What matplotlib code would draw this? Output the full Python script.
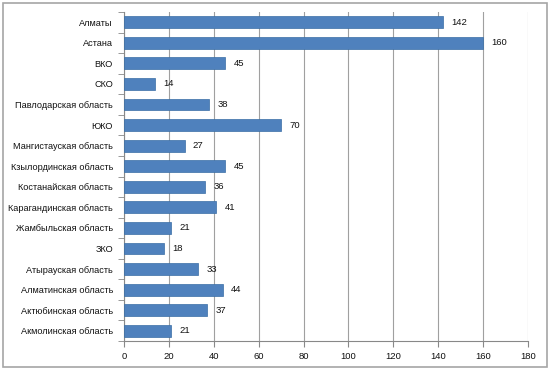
import matplotlib.pyplot as plt
from matplotlib.patches import Rectangle
import numpy as np

regions = ["Алматы", "Астана", "ВКО", "СКО", "Павлодарская область", "ЮКО",
           "Мангистауская область", "Кзылординская область", "Костанайская область",
           "Карагандинская область", "Жамбыльская область", "ЗКО",
           "Атырауская область", "Алматинская область", "Актюбинская область",
           "Акмолинская область"]
counts = [142, 160, 45, 14, 38, 70, 27, 45, 36, 41, 21, 18, 33, 44, 37, 21]

plt.rcParams['font.family'] = ['Liberation Sans', 'DejaVu Sans']

fig = plt.figure(figsize=(5.5, 3.7), dpi=100)
ax = fig.add_axes([124 / 550, 1 - 341 / 370, 404 / 550, 329 / 370])

y = np.arange(len(regions))
ax.barh(y, counts, height=0.58, color='#4F81BD', edgecolor='#3A6EA5', linewidth=0.5, zorder=3)
for yi, v in zip(y, counts):
    ax.annotate(str(v), (v, yi), xytext=(6, 0), textcoords='offset points',
                va='center', ha='left', fontsize=6.8, color='#111111')

ax.set_xlim(0, 180)
ax.set_xticks(range(0, 181, 20))
ax.set_ylim(len(regions) - 0.5, -0.5)
ax.set_yticks(y)
ax.set_yticklabels(regions)
ax.set_yticks(np.arange(-0.5, len(regions), 1), minor=True)
ax.tick_params(axis='y', which='major', length=0, pad=8, labelsize=6.6, labelcolor='#111111')
ax.tick_params(axis='y', which='minor', length=4, color='#888888')
ax.tick_params(axis='x', length=4, color='#888888', labelsize=6.8, pad=4, labelcolor='#111111')
ax.grid(axis='x', color='#A0A0A0', linewidth=0.8, zorder=0)
for s in ['top', 'right']:
    ax.spines[s].set_visible(False)
for s in ['left', 'bottom']:
    ax.spines[s].set_color('#888888')
    ax.spines[s].set_linewidth(0.8)

fig.patches.append(Rectangle((3 / 550, 3 / 370), 544 / 550, 364 / 370,
                             transform=fig.transFigure, fill=False,
                             edgecolor='#A6A6A6', linewidth=1.2))

fig.savefig('out.png', dpi=100)
